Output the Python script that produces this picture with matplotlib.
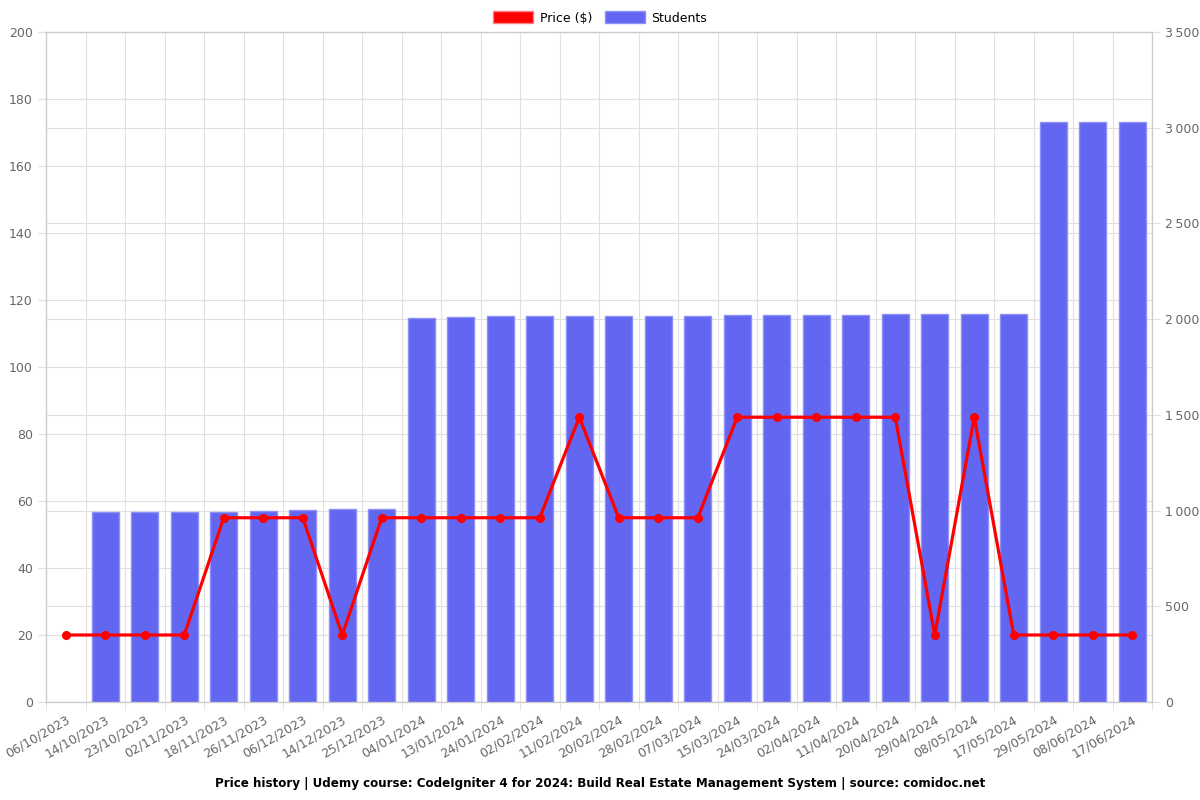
import matplotlib.pyplot as plt
import numpy as np
from matplotlib.patches import Patch

dates = [
    "06/10/2023", "14/10/2023", "23/10/2023", "02/11/2023", "18/11/2023",
    "26/11/2023", "06/12/2023", "14/12/2023", "25/12/2023", "04/01/2024",
    "13/01/2024", "24/01/2024", "02/02/2024", "11/02/2024", "20/02/2024",
    "28/02/2024", "07/03/2024", "15/03/2024", "24/03/2024", "02/04/2024",
    "11/04/2024", "20/04/2024", "29/04/2024", "08/05/2024", "17/05/2024",
    "29/05/2024", "08/06/2024", "17/06/2024",
]
price = [20, 20, 20, 20, 55, 55, 55, 20, 55, 55, 55, 55, 55, 85, 55, 55, 55,
         85, 85, 85, 85, 85, 20, 85, 20, 20, 20, 20]
students = [0, 993, 994, 995, 995, 997, 1005, 1006, 1007, 2008, 2011, 2014,
            2015, 2015, 2015, 2016, 2018, 2020, 2021, 2022, 2024, 2025, 2027,
            2027, 2026, 3028, 3030, 3030]

grid_color = "#e0e0e0"
text_color = "#666666"

fig = plt.figure(figsize=(12, 8), dpi=100)
ax = fig.add_axes([46 / 1200, 98 / 800, 1106 / 1200, 670 / 800])
ax2 = ax.twinx()   # students bars
ax3 = ax.twinx()   # price line, on top

x = np.arange(len(dates))

# grid and left axis on the bottom axes
ax.set_ylim(0, 200)
ax.set_yticks(range(0, 201, 20))
ax.set_xlim(-0.5, len(dates) - 0.5)
ax.set_xticks(x)
ax.set_xticklabels(dates, rotation=30, ha="right", rotation_mode="anchor")
ax.set_xticks(np.arange(-0.5, len(dates), 1), minor=True)
ax.tick_params(axis="x", which="major", length=0, pad=8, colors=text_color,
               labelsize=9)
ax.tick_params(axis="x", which="minor", length=6, color=grid_color)
ax.grid(True, which="minor", axis="x", color=grid_color, linewidth=0.8)
ax.grid(True, which="major", axis="y", color=grid_color, linewidth=0.8)

# bars on the right axis
lw = [0 if v == 0 else 1 for v in students]
ax2.bar(x, students, width=0.68, color="#6366f1", edgecolor="#8d90f5",
        linewidth=lw, zorder=2)
ax2.set_ylim(0, 3500)
ticks_r = list(range(0, 3501, 500))
ax2.set_yticks(ticks_r)
ax2.set_yticklabels([f"{v:,}".replace(",", "\u2009") for v in ticks_r])
ax2.grid(True, axis="y", color=grid_color, linewidth=0.8, zorder=0)
ax2.set_axisbelow(True)

# price line
ax3.plot(x, price, color="#ff0000", linewidth=2.3, marker="o", markersize=5.5,
         zorder=3)
ax3.set_ylim(0, 200)
ax3.set_yticks([])

for a in (ax, ax2, ax3):
    for s in a.spines.values():
        s.set_color("#cccccc")
for a in (ax, ax2):
    a.tick_params(axis="y", colors=text_color, labelsize=9, length=6)
    a.tick_params(axis="y", color=grid_color)

# legend
handles = [Patch(facecolor="#ff0000", edgecolor="#ff8080", label="Price ($)"),
           Patch(facecolor="#6366f1", edgecolor="#8d90f5", label="Students")]
fig.legend(handles=handles, loc="upper center", bbox_to_anchor=(0.5, 1.0),
           ncol=2, frameon=False, fontsize=9, handlelength=3.2,
           handleheight=1.1, columnspacing=1.0, handletextpad=0.5)

fig.text(0.5, 0.012, "Price history | Udemy course: CodeIgniter 4 for 2024: "
         "Build Real Estate Management System | source: comidoc.net",
         ha="center", va="bottom", fontsize=8.6, fontweight="bold")

fig.savefig("out.png", dpi=100)
